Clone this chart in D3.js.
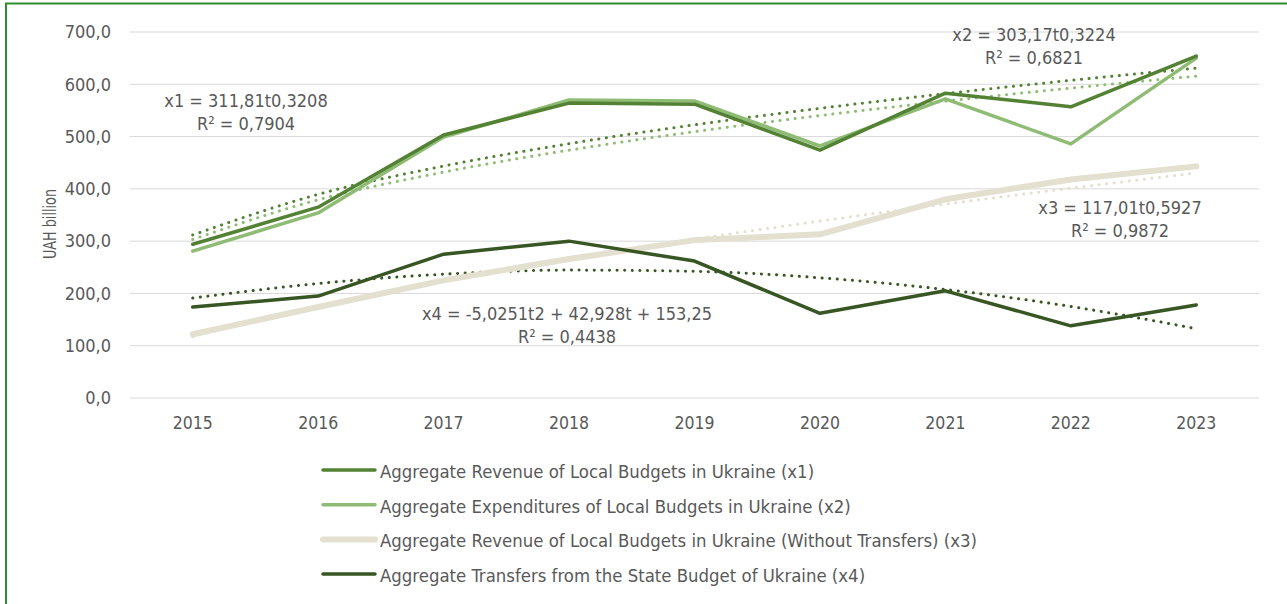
<!DOCTYPE html>
<html>
<head>
<meta charset="utf-8">
<script src="https://cdn.jsdelivr.net/npm/d3@7"></script>
<style>
  body { margin: 0; background: #fff; }
  svg text { font-family: "DejaVu Sans Condensed", "DejaVu Sans", sans-serif; font-stretch: condensed; fill: #595959; }
</style>
</head>
<body>
<div id="chart"></div>
<script>
// data (UAH billion)
const years = ["2015", "2016", "2017", "2018", "2019", "2020", "2021", "2022", "2023"];
const revenue = [294, 365, 503, 564, 562, 474, 583, 557, 654];          // x1
const expenditures = [281, 354, 499, 570, 568, 482, 572, 486, 650];     // x2
const revenueNoTransfers = [122, 174, 225, 266, 302, 313, 380, 418, 443]; // x3
const transfers = [174, 195, 275, 300, 262, 162, 205, 138, 178];        // x4

// trendline values at each year, as the printed equations give them
const trendX1 = [311.8, 389.5, 443.6, 486.4, 522.5, 554.0, 582.1, 607.5, 630.9];
const trendX2 = [303.2, 379.1, 432.0, 474.0, 509.4, 540.2, 567.7, 592.7, 615.6];
const trendX3 = [117.0, 176.4, 224.4, 266.1, 303.7, 338.4, 370.8, 401.3, 430.3];
const trendX4 = [191.2, 219.0, 236.8, 244.6, 242.3, 229.9, 207.5, 175.1, 132.6];

const yTicks = [0, 100, 200, 300, 400, 500, 600, 700];

const seriesNames = [
    "Aggregate Revenue of Local Budgets in Ukraine (x1)",
    "Aggregate Expenditures of Local Budgets in Ukraine (x2)",
    "Aggregate Revenue of Local Budgets in Ukraine (Without Transfers) (x3)",
    "Aggregate Transfers from the State Budget of Ukraine (x4)"
];
const colors = ["#548235", "#8fbc74", "#e3e0cf", "#375623"];
const widths = [3.5, 3.5, 6, 3.5];

const equations = [
    { eq: "x1 = 311,81t0,3208", r2: "R² = 0,7904", cx: 246, cy: 100 },
    { eq: "x2 = 303,17t0,3224", r2: "R² = 0,6821", cx: 1034, cy: 34 },
    { eq: "x3 = 117,01t0,5927", r2: "R² = 0,9872", cx: 1120, cy: 207 },
    { eq: "x4 = -5,0251t2 + 42,928t + 153,25", r2: "R² = 0,4438", cx: 567, cy: 313 }
];

const width = 1287, height = 604;
const margin = { top: 32, left: 130, right: 28, bottom: 206 };

const svg = d3.select("#chart").append("svg")
    .attr("width", width)
    .attr("height", height);

// frame (only top and left edges show)
svg.append("path")
    .attr("d", `M 6 ${height} V 3.5 H ${width}`)
    .attr("fill", "none")
    .attr("stroke", "#2e8b2e")
    .attr("stroke-width", 2);

const x = d3.scaleBand()
    .domain(years)
    .range([margin.left, width - margin.right]);

const y = d3.scaleLinear()
    .domain([0, 700])
    .range([height - margin.bottom, margin.top]);

// gridlines
svg.append("g")
    .selectAll("line")
    .data(yTicks)
    .enter()
    .append("line")
    .attr("x1", margin.left)
    .attr("x2", width - margin.right)
    .attr("y1", d => y(d))
    .attr("y2", d => y(d))
    .attr("stroke", "#d9d9d9")
    .attr("stroke-width", 1);

// y axis labels
const yAxis = svg.append("g")
    .attr("transform", `translate(${margin.left - 19},0)`)
    .call(d3.axisLeft(y).tickValues(yTicks).tickSize(0).tickPadding(0)
        .tickFormat(d => d3.format(".1f")(d).replace(".", ",")));
yAxis.select(".domain").remove();
yAxis.selectAll("text").attr("font-size", 18).attr("fill", "#595959");

// x axis labels
const xAxis = svg.append("g")
    .attr("transform", `translate(0,${y(0)})`)
    .call(d3.axisBottom(x).tickSize(0).tickPadding(0));
xAxis.select(".domain").remove();
xAxis.selectAll("text")
    .attr("y", 31)
    .attr("dy", null)
    .attr("font-size", 17.5)
    .attr("fill", "#595959");

svg.append("text")
    .attr("transform", `translate(56,224) rotate(-90)`)
    .attr("text-anchor", "middle")
    .attr("font-size", 18)
    .attr("textLength", 70)
    .attr("lengthAdjust", "spacingAndGlyphs")
    .text("UAH billion");

const cx = d => x(d) + x.bandwidth() / 2;

const line = d3.line()
    .x((d, i) => cx(years[i]))
    .y(d => y(d));

const trendLine = d3.line()
    .x((d, i) => cx(years[i]))
    .y(d => y(d))
    .curve(d3.curveMonotoneX);

const series = [revenue, expenditures, revenueNoTransfers, transfers];
const trends = [trendX1, trendX2, trendX3, trendX4];

// dotted trendlines
trends.forEach((t, i) => {
    svg.append("path")
        .datum(t)
        .attr("d", trendLine)
        .attr("fill", "none")
        .attr("stroke", colors[i])
        .attr("stroke-width", 3)
        .attr("stroke-linecap", "round")
        .attr("stroke-dasharray", "0.1 7.5");
});

// data lines, x1 ends up on top
[2, 3, 1, 0].forEach(i => {
    svg.append("path")
        .datum(series[i])
        .attr("d", line)
        .attr("fill", "none")
        .attr("stroke", colors[i])
        .attr("stroke-width", widths[i])
        .attr("stroke-linejoin", "round")
        .attr("stroke-linecap", "round");
});

// trend equations
equations.forEach(e => {
    const g = svg.append("g").attr("text-anchor", "middle").attr("font-size", 18);
    g.append("text").attr("x", e.cx).attr("y", e.cy + 6.5).text(e.eq);
    g.append("text").attr("x", e.cx).attr("y", e.cy + 29.5).text(e.r2);
});

// legend
const legend = svg.append("g");
seriesNames.forEach((name, i) => {
    const ly = 470 + i * 34.7;
    legend.append("line")
        .attr("x1", 323).attr("x2", 375)
        .attr("y1", ly).attr("y2", ly)
        .attr("stroke", colors[i])
        .attr("stroke-width", widths[i])
        .attr("stroke-linecap", "round");
    legend.append("text")
        .attr("x", 380)
        .attr("y", ly + 8)
        .attr("font-size", 18.4)
        .text(name);
});
</script>
</body>
</html>
